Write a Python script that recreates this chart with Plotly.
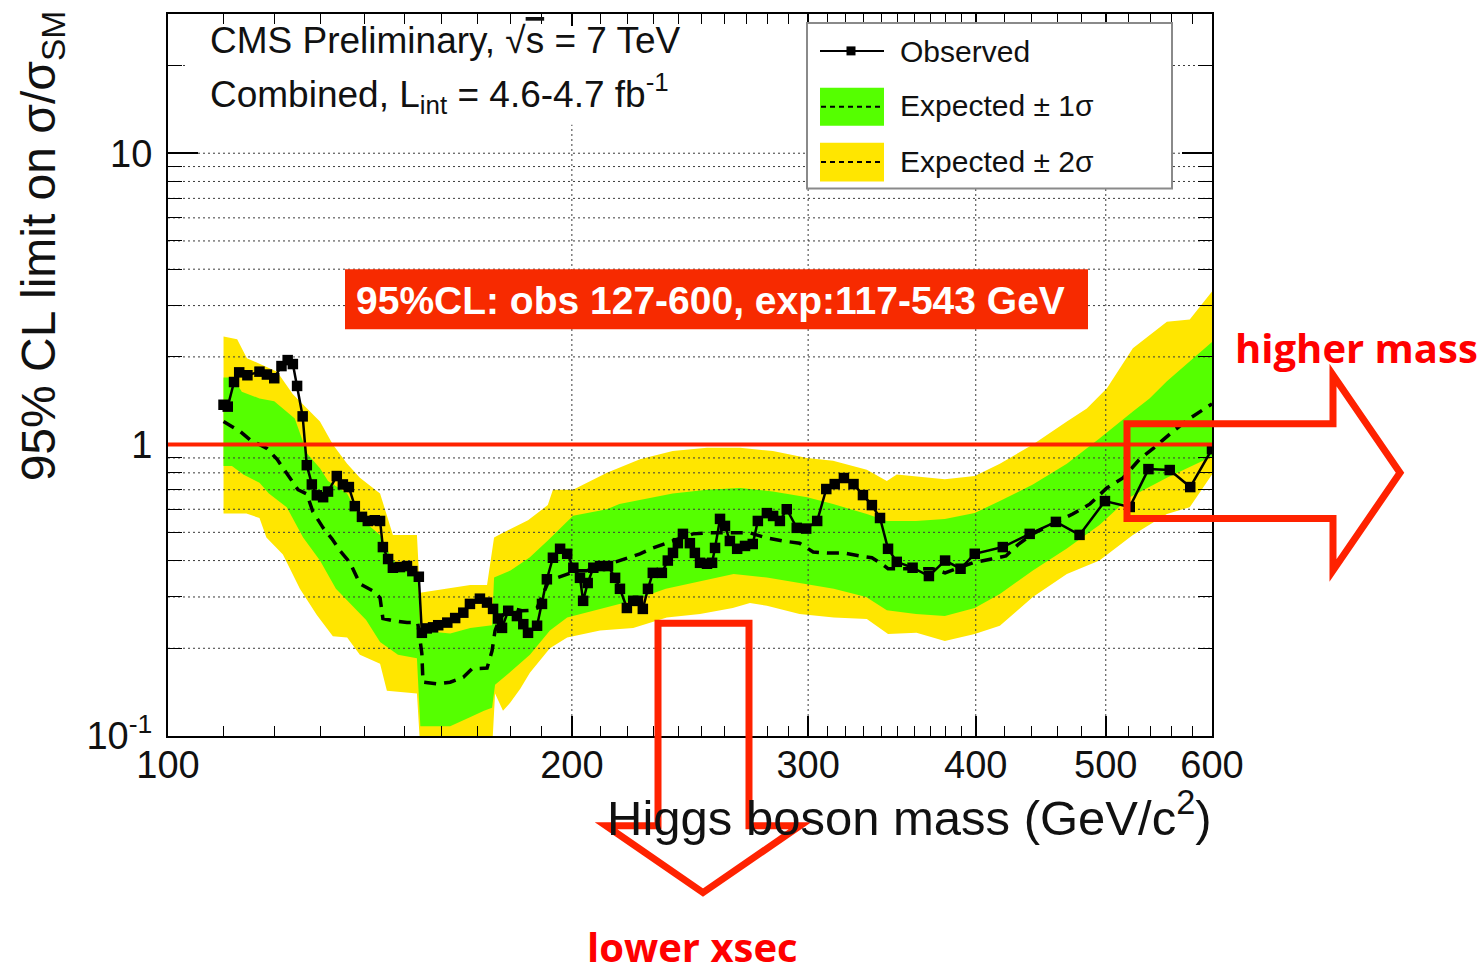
import plotly.graph_objects as go

# ---------------------------------------------------------------------------
# CMS combined Higgs search, sqrt(s) = 7 TeV: 95% CL limits on sigma/sigma_SM
# ---------------------------------------------------------------------------

# Observed limit
obs_mass = [110.0, 110.8, 112.0, 113.0, 114.6, 117.0, 118.5, 120.0, 121.5, 122.8,
            123.9, 124.8, 126.0, 126.9, 128.0, 129.1, 130.5, 131.6, 133.6, 135.0,
            136.4, 137.8, 139.5, 140.9, 142.6, 143.9, 144.6, 145.9, 147.1, 148.9,
            150.7, 152.1, 153.8, 154.6, 155.9, 157.6, 159.0, 161.5, 163.7, 166.0,
            167.9, 170.8, 172.9, 174.7, 176.2, 177.4, 179.3, 182.0, 184.0, 185.5,
            188.4, 190.0, 191.6, 193.6, 196.0, 198.4, 200.5, 202.8, 203.9, 205.5,
            207.5, 209.9, 212.8, 215.4, 217.2, 219.8, 222.2, 224.0, 225.9, 227.9,
            229.8, 233.4, 235.8, 237.9, 239.9, 242.0, 244.9, 247.0, 249.2, 252.2,
            254.4, 255.7, 257.9, 260.1, 262.3, 265.6, 269.2, 272.8, 275.2, 279.5,
            282.5, 285.8, 289.2, 294.2, 299.0, 304.7, 309.5, 314.0, 319.0, 324.3,
            329.6, 334.7, 339.4, 344.1, 349.3, 358.9, 369.1, 379.5, 389.7, 399.3,
            419.0, 438.8, 459.0, 478.0, 499.3, 521.0, 538.0, 558.0, 578.0, 600.0]
obs_limit = [1.37, 1.35, 1.64, 1.77, 1.73, 1.78, 1.74, 1.69, 1.86, 1.95,
             1.89, 1.59, 1.25, 0.85, 0.73, 0.67, 0.66, 0.69, 0.78, 0.73,
             0.715, 0.615, 0.565, 0.547, 0.55, 0.547, 0.445, 0.405, 0.378, 0.38,
             0.383, 0.368, 0.352, 0.226, 0.234, 0.236, 0.24, 0.245, 0.254, 0.265,
             0.284, 0.296, 0.287, 0.273, 0.253, 0.235, 0.269, 0.258, 0.242, 0.226,
             0.239, 0.284, 0.345, 0.409, 0.439, 0.422, 0.378, 0.349, 0.291, 0.335,
             0.378, 0.383, 0.383, 0.349, 0.32, 0.275, 0.291, 0.291, 0.273, 0.32,
             0.363, 0.363, 0.40, 0.425, 0.459, 0.494, 0.459, 0.425, 0.393, 0.39,
             0.393, 0.442, 0.556, 0.526, 0.467, 0.439, 0.449, 0.456, 0.547, 0.582,
             0.569, 0.547, 0.60, 0.518, 0.515, 0.547, 0.704, 0.732, 0.768, 0.732,
             0.671, 0.62, 0.56, 0.439, 0.396, 0.378, 0.354, 0.40, 0.375, 0.422,
             0.445, 0.494, 0.543, 0.49, 0.64, 0.611, 0.824, 0.818, 0.715, 0.965]

# Median expected limit
exp_mass = [110.0, 113.2, 115.1, 118.5, 120.6, 122.8, 125.0, 126.9, 128.2, 130.5,
            132.5, 134.4, 136.7, 139.0, 142.1, 143.9, 144.6, 147.1, 150.7, 153.5,
            154.6, 154.9, 158.7, 162.3, 166.0, 168.5, 172.9, 174.4, 175.3, 176.8,
            180.5, 183.5, 186.1, 188.4, 190.3, 191.9, 194.9, 198.4, 201.8, 205.1,
            209.9, 214.6, 219.8, 224.8, 229.8, 235.4, 240.7, 246.2, 252.2, 257.9,
            263.6, 271.5, 279.5, 287.2, 295.6, 302.6, 309.9, 318.5, 327.9, 334.7,
            340.3, 344.1, 351.2, 361.3, 371.6, 379.5, 389.2, 398.0, 411.0, 421.3,
            430.6, 441.0, 456.4, 472.4, 486.7, 500.9, 515.0, 530.0, 542.8, 561.0,
            577.5, 591.9, 600.0]
exp_limit = [1.20, 1.11, 1.04, 0.97, 0.89, 0.79, 0.70, 0.677, 0.59, 0.518,
             0.475, 0.431, 0.393, 0.333, 0.315, 0.298, 0.253, 0.249, 0.245, 0.245,
             0.192, 0.153, 0.151, 0.153, 0.159, 0.17, 0.171, 0.196, 0.230, 0.255,
             0.275, 0.269, 0.27, 0.275, 0.308, 0.335, 0.349, 0.36, 0.369, 0.369,
             0.383, 0.393, 0.409, 0.422, 0.442, 0.459, 0.478, 0.494, 0.498, 0.498,
             0.498, 0.498, 0.478, 0.467, 0.459, 0.428, 0.425, 0.425, 0.415, 0.409,
             0.39, 0.375, 0.375, 0.375, 0.375, 0.363, 0.378, 0.393, 0.405, 0.415,
             0.456, 0.494, 0.534, 0.578, 0.626, 0.71, 0.768, 0.892, 0.973, 1.11,
             1.23, 1.33, 1.38]

# +/- 1 sigma band edges
one_sig_up_mass = [110.0, 111.8, 113.5, 117.0, 120.0, 124.3, 127.0, 129.8, 131.6, 136.0,
                   139.0, 143.9, 147.1, 150.0, 153.5, 154.2, 162.3, 168.0, 174.4, 175.0,
                   180.0, 186.0, 192.0, 200.4, 212.4, 217.0, 237.8, 252.2, 266.9, 282.4,
                   299.5, 313.1, 331.8, 343.4, 361.0, 379.3, 399.3, 416.9, 441.2, 467.7,
                   494.6, 523.8, 539.0, 555.3, 600.0]
one_sig_up = [1.70, 1.70, 1.52, 1.44, 1.41, 1.23, 0.93, 0.83, 0.75, 0.68,
              0.56, 0.49, 0.40, 0.38, 0.36, 0.23, 0.225, 0.235, 0.24, 0.35,
              0.37, 0.41, 0.47, 0.57, 0.60, 0.625, 0.68, 0.70, 0.71, 0.69,
              0.66, 0.625, 0.578, 0.547, 0.547, 0.555, 0.583, 0.64, 0.73, 0.86,
              1.05, 1.30, 1.44, 1.65, 2.25]
one_sig_lo_mass = [110.0, 111.6, 113.8, 117.0, 118.9, 122.6, 126.1, 129.8, 133.4, 137.3,
                   140.5, 143.9, 148.4, 153.3, 154.2, 162.3, 167.9, 172.0, 174.4, 175.3,
                   180.0, 186.1, 192.6, 198.4, 221.0, 235.0, 249.2, 264.0, 279.5, 296.0,
                   313.5, 331.4, 343.4, 361.0, 379.3, 399.3, 416.9, 441.2, 467.7, 494.6,
                   521.0, 555.3, 600.0]
one_sig_lo = [0.845, 0.845, 0.79, 0.74, 0.68, 0.61, 0.48, 0.40, 0.32, 0.28,
              0.25, 0.21, 0.19, 0.185, 0.108, 0.108, 0.116, 0.122, 0.125, 0.15,
              0.166, 0.19, 0.23, 0.255, 0.29, 0.32, 0.34, 0.36, 0.35, 0.335,
              0.32, 0.30, 0.27, 0.262, 0.258, 0.275, 0.307, 0.37, 0.44, 0.53,
              0.66, 0.77, 0.91]

# +/- 2 sigma band edges
two_sig_up_mass = [110.0, 112.6, 114.5, 117.0, 120.6, 123.9, 126.9, 129.8, 132.7, 136.0,
                   139.0, 143.9, 147.1, 153.3, 154.1, 168.0, 172.9, 175.0, 178.0, 185.5,
                   191.9, 193.6, 200.4, 212.4, 224.8, 237.8, 252.2, 266.9, 282.4, 299.5,
                   313.1, 331.8, 343.4, 349.3, 379.3, 399.3, 416.9, 441.2, 467.7, 484.0,
                   501.0, 523.8, 555.3, 577.5, 600.0]
two_sig_up = [2.35, 2.30, 1.98, 1.89, 1.78, 1.49, 1.33, 1.20, 1.00, 0.86,
              0.77, 0.68, 0.49, 0.49, 0.31, 0.33, 0.33, 0.48, 0.50, 0.55,
              0.62, 0.70, 0.70, 0.80, 0.89, 0.95, 0.975, 0.975, 0.95, 0.90,
              0.88, 0.82, 0.75, 0.79, 0.76, 0.78, 0.86, 1.00, 1.20, 1.33,
              1.56, 2.14, 2.64, 2.69, 3.35]
two_sig_lo_mass = [110.0, 114.4, 117.0, 118.4, 121.8, 125.4, 129.1, 132.7, 136.0, 139.0,
                   143.9, 145.6, 153.3, 154.2, 174.4, 175.3, 177.7, 179.9, 183.0, 186.1,
                   192.6, 198.4, 209.9, 222.2, 235.4, 249.2, 263.6, 271.5, 279.5, 295.6,
                   313.5, 331.8, 344.1, 361.3, 379.3, 399.3, 416.9, 441.2, 467.7, 494.6,
                   523.8, 555.3, 577.5, 600.0]
two_sig_lo = [0.58, 0.58, 0.56, 0.48, 0.42, 0.32, 0.26, 0.22, 0.218, 0.19,
              0.177, 0.143, 0.14, 0.09, 0.09, 0.14, 0.122, 0.13, 0.145, 0.165,
              0.20, 0.218, 0.23, 0.235, 0.255, 0.262, 0.275, 0.286, 0.28, 0.262,
              0.255, 0.252, 0.224, 0.226, 0.212, 0.224, 0.239, 0.30, 0.36, 0.40,
              0.49, 0.578, 0.61, 0.79]

# Standard Model reference
sm_ratio = 1.0

# Axis ticks
x_major = [100, 200, 300, 400, 500, 600]
x_major_text = ["100", "200", "300", "400", "500", "600"]
x_grid = [200, 300, 400, 500]
y_major = [0.1, 1, 10]
y_major_text = ["10<sup>-1</sup>", "1", "10"]

x_minor = ([m for m in range(110, 400, 10) if m % 100] +
           [m for m in range(420, 600, 20) if m % 100])
y_minor = ([k / 10 for k in range(2, 10)] + list(range(2, 10)) + [20, 30])
y_grid = [k / 10 for k in range(2, 10)] + list(range(1, 10)) + [10, 20]

X_LO, X_HI = 100, 600
Y_LO, Y_HI = 0.1, 30.05

# Plot frame in pixels
PL, PR, PT, PB = 168, 1212, 12, 736


def fx(px):
    return (px - PL) / (PR - PL)


def fy(py):
    return (PB - py) / (PB - PT)


GREEN = "#55FF00"
YELLOW = "#FFE600"
RED = "#FF2200"
FONT = "Liberation Sans"

fig = go.Figure()

# bands drawn as closed polygons
fig.add_trace(go.Scatter(
    x=two_sig_up_mass + two_sig_lo_mass[::-1],
    y=two_sig_up + two_sig_lo[::-1],
    fill="toself", fillcolor=YELLOW, mode="lines",
    line=dict(width=0, color=YELLOW), hoverinfo="skip", showlegend=False))
fig.add_trace(go.Scatter(
    x=one_sig_up_mass + one_sig_lo_mass[::-1],
    y=one_sig_up + one_sig_lo[::-1],
    fill="toself", fillcolor=GREEN, mode="lines",
    line=dict(width=0, color=GREEN), hoverinfo="skip", showlegend=False))

# dotted grid, drawn over the bands
gx, gy = [], []
for v in y_grid:
    gx += [X_LO, X_HI, None]
    gy += [v, v, None]
for m in x_grid:
    gx += [m, m, None]
    gy += [Y_LO, Y_HI, None]
fig.add_trace(go.Scatter(
    x=gx, y=gy, mode="lines", hoverinfo="skip", showlegend=False,
    line=dict(color="#3a3a3a", width=1, dash="2px,3px")))

# expected median
fig.add_trace(go.Scatter(
    x=exp_mass, y=exp_limit, mode="lines", showlegend=False,
    line=dict(color="black", width=3.5, dash="12px,8px")))

# observed
fig.add_trace(go.Scatter(
    x=obs_mass, y=obs_limit, mode="lines+markers", showlegend=False,
    line=dict(color="black", width=2.5),
    marker=dict(symbol="square", size=10.5, color="black")))

shapes = []
annotations = []

# SM line, drawn above the axis ticks
shapes.append(dict(type="line", xref="paper", yref="y", x0=0, x1=1,
                   y0=sm_ratio, y1=sm_ratio, line=dict(color=RED, width=4),
                   layer="above"))

# white pave behind the header text
shapes.append(dict(type="rect", xref="paper", yref="paper",
                   x0=fx(186), x1=fx(805), y0=fy(123), y1=fy(24),
                   fillcolor="white", line=dict(width=0), layer="above"))

# legend box
shapes.append(dict(type="rect", xref="paper", yref="paper",
                   x0=fx(807), x1=fx(1172), y0=fy(187), y1=fy(21),
                   fillcolor="white", line=dict(color="#8a8a8a", width=2),
                   layer="above"))
shapes.append(dict(type="line", xref="paper", yref="paper",
                   x0=fx(820), x1=fx(884), y0=fy(49), y1=fy(49),
                   line=dict(color="black", width=2), layer="above"))
shapes.append(dict(type="rect", xref="paper", yref="paper",
                   x0=fx(846.5), x1=fx(855.5), y0=fy(53.5), y1=fy(44.5),
                   fillcolor="black", line=dict(width=0), layer="above"))
for top, bot, col in [(86, 124, GREEN), (141, 180, YELLOW)]:
    shapes.append(dict(type="rect", xref="paper", yref="paper",
                       x0=fx(820), x1=fx(884), y0=fy(bot), y1=fy(top),
                       fillcolor=col, line=dict(width=0), layer="above"))
    mid = (top + bot) / 2
    shapes.append(dict(type="line", xref="paper", yref="paper",
                       x0=fx(821), x1=fx(884), y0=fy(mid), y1=fy(mid),
                       line=dict(color="black", width=2, dash="5px,4px"),
                       layer="above"))

legend_rows = [("Observed", 50), ("Expected ± 1σ", 104), ("Expected ± 2σ", 160)]
for txt, yy in legend_rows:
    annotations.append(dict(text=txt, xref="paper", yref="paper",
                            x=fx(898), y=fy(yy), xanchor="left", yanchor="middle",
                            showarrow=False, font=dict(family=FONT, size=30, color="#111")))

# header text
annotations.append(dict(
    text="CMS Preliminary, √<span style='text-decoration:overline'>s</span> = 7 TeV",
    xref="paper", yref="paper", x=fx(208), y=fy(39), xanchor="left", yanchor="middle",
    showarrow=False, font=dict(family=FONT, size=37, color="#111")))
annotations.append(dict(
    text="Combined, L<sub>int</sub> = 4.6-4.7 fb<sup>-1</sup>",
    xref="paper", yref="paper", x=fx(208), y=fy(92), xanchor="left", yanchor="middle",
    showarrow=False, font=dict(family=FONT, size=37, color="#111")))

# exclusion summary box
shapes.append(dict(type="rect", xref="paper", yref="paper",
                   x0=fx(345), x1=fx(1088), y0=fy(328), y1=fy(268),
                   fillcolor="#F72A00", line=dict(width=0), layer="above"))
annotations.append(dict(
    text="<b>95%CL: obs 127-600, exp:117-543 GeV</b>",
    xref="paper", yref="paper", x=fx(710), y=fy(299), xanchor="center", yanchor="middle",
    showarrow=False, font=dict(family=FONT, size=39, color="white")))

# axis titles
annotations.append(dict(
    text="Higgs boson mass (GeV/c<sup>2</sup>)",
    xref="paper", yref="paper", x=fx(1214), y=fy(814), xanchor="right", yanchor="middle",
    showarrow=False, font=dict(family=FONT, size=49, color="#111")))
annotations.append(dict(
    text="95% CL limit on σ/σ<sub>SM</sub>",
    xref="paper", yref="paper", x=fx(42), y=fy(245), xanchor="center", yanchor="middle",
    textangle=-90, showarrow=False, font=dict(family=FONT, size=48, color="#111")))


# arrows
def path(points):
    s = "M " + " L ".join(f"{fx(a):.5f},{fy(b):.5f}" for a, b in points) + " Z"
    return s


shapes.append(dict(type="path", xref="paper", yref="paper",
                   path=path([(1127, 423), (1333, 423), (1333, 374), (1400, 472),
                              (1333, 570), (1333, 518), (1127, 518)]),
                   line=dict(color=RED, width=7), fillcolor="rgba(0,0,0,0)",
                   layer="above"))
shapes.append(dict(type="path", xref="paper", yref="paper",
                   path=path([(658, 623), (749, 623), (749, 826), (800, 826),
                              (703, 893), (606, 826), (658, 826)]),
                   line=dict(color=RED, width=7), fillcolor="rgba(0,0,0,0)",
                   layer="above"))

annotations.append(dict(text="<b>higher mass</b>", xref="paper", yref="paper",
                        x=fx(1356), y=fy(346), xanchor="center", yanchor="middle",
                        showarrow=False,
                        font=dict(family="Open Sans", size=40, color="#FF0000")))
annotations.append(dict(text="<b>lower xsec</b>", xref="paper", yref="paper",
                        x=fx(692), y=fy(947), xanchor="center", yanchor="middle",
                        showarrow=False,
                        font=dict(family="Open Sans", size=40, color="#FF0000")))

axis_common = dict(
    type="log", showline=True, linecolor="black", linewidth=2, mirror="allticks",
    ticks="inside", tickcolor="black", tickwidth=1.5, showgrid=False, zeroline=False,
    tickmode="array", tickfont=dict(family=FONT, size=38, color="#111"),
)

fig.update_layout(
    width=1484, height=974,
    margin=dict(l=PL, r=1484 - PR, t=PT, b=974 - PB, pad=0),
    paper_bgcolor="white", plot_bgcolor="white",
    showlegend=False,
    xaxis=dict(axis_common, range=[2, 2.7781513], tickvals=x_major, ticktext=x_major_text,
               ticklen=20, ticklabelstandoff=-6,
               minor=dict(tickvals=x_minor, ticklen=10, ticks="inside",
                          tickcolor="black", tickwidth=1.2, showgrid=False)),
    yaxis=dict(axis_common, range=[-1, 1.4778], tickvals=y_major, ticktext=y_major_text,
               ticklen=30, ticklabelstandoff=6,
               minor=dict(tickvals=y_minor, ticklen=14, ticks="inside",
                          tickcolor="black", tickwidth=1.2, showgrid=False)),
    shapes=shapes,
    annotations=annotations,
)

fig.write_html("out.html")
